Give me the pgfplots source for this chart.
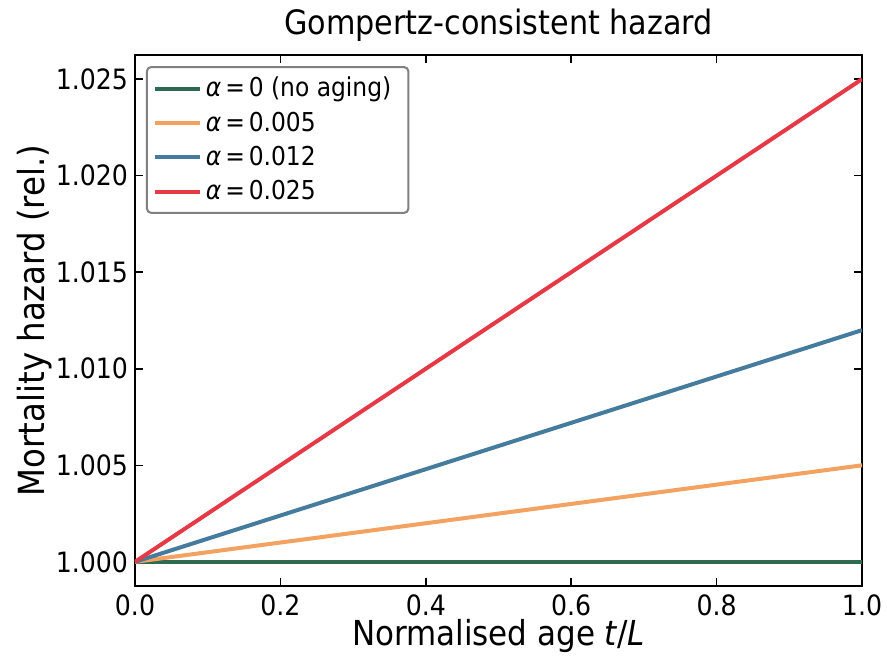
\documentclass[border=0pt]{standalone}
\usepackage{fontspec}
\setmainfont{DejaVu Sans Condensed}
\usepackage{pgfplots}
\pgfplotsset{compat=1.18}

\definecolor{cgreen}{HTML}{2D6A4F}
\definecolor{corange}{HTML}{F4A261}
\definecolor{cblue}{HTML}{457B9D}
\definecolor{cred}{HTML}{E63946}

\newcommand{\al}{{\itshape α}\hspace{0.15em}=\hspace{0.15em}}

\begin{document}
\begin{tikzpicture}
\begin{axis}[
  at={(0,0)}, anchor=south west,
  scale only axis, width=363.5pt, height=265.5pt,
  xmin=0, xmax=1, ymin=0.99875, ymax=1.02625,
  xtick={0,0.2,0.4,0.6,0.8,1.0},
  ytick={1.000,1.005,1.010,1.015,1.020,1.025},
  xticklabel style={/pgf/number format/.cd,fixed,fixed zerofill,precision=1},
  yticklabel style={/pgf/number format/.cd,fixed,fixed zerofill,precision=3},
  /pgf/number format/assume math mode=true,
  scaled y ticks=false,
  tick label style={font=\fontsize{14}{16}\selectfont, black},
  tick align=inside, tick pos=both, major tick length=4pt,
  tick style={black, line width=0.8pt},
  axis line style={black, line width=1.3pt},
  xticklabel shift=1pt, yticklabel shift=0pt,
  legend style={at={(axis description cs:0.0151,0.979)}, anchor=north west,
    draw=gray, line width=1pt, rounded corners=2pt, fill=white,
    font=\fontsize{13}{15}\selectfont, row sep=2pt,
    inner xsep=3pt, inner ysep=3pt},
  legend cell align=left,
  legend image code/.code={\draw[#1, line width=2pt] (0pt,0pt) -- (22.5pt,0pt);},
]
\addplot[cgreen, line width=2pt] coordinates {(0,1.000) (0.5,1.000) (1,1.000)};
\addlegendentry{\al 0 (no aging)\rule{3.5pt}{0pt}}
\addplot[corange, line width=2pt] coordinates {(0,1.000) (0.5,1.0025) (1,1.005)};
\addlegendentry{\al 0.005}
\addplot[cblue, line width=2pt] coordinates {(0,1.000) (0.5,1.006) (1,1.012)};
\addlegendentry{\al 0.012}
\addplot[cred, line width=2pt] coordinates {(0,1.000) (0.5,1.0125) (1,1.025)};
\addlegendentry{\al 0.025}
\end{axis}
\node[anchor=base, font=\fontsize{16.8}{19}\selectfont] at (181.75pt,275.5pt) {Gompertz-consistent hazard};
\node[anchor=base, font=\fontsize{17.2}{20}\selectfont] at (181.75pt,-30pt) {Normalised age {\itshape t}/{\itshape L}};
\node[anchor=base, rotate=90, font=\fontsize{18}{21}\selectfont] at (-45pt,132.75pt) {Mortality hazard (rel.)};
\pgfresetboundingbox
\path[use as bounding box] (-67.5pt,-35.5pt) rectangle (376pt,293pt);
\end{tikzpicture}
\end{document}
